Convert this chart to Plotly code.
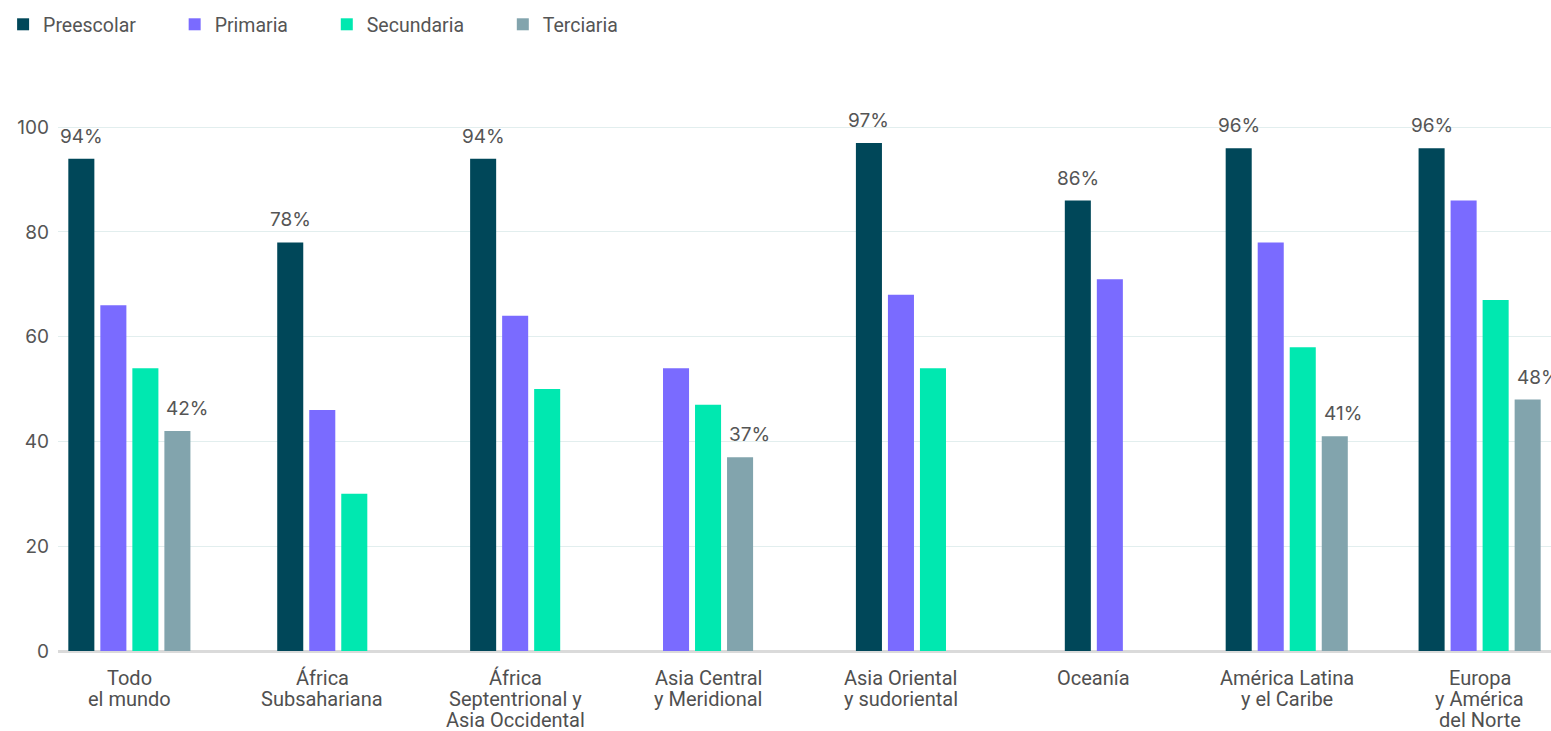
import plotly.graph_objects as go

categories = [
    "Todo<br>el mundo",
    "África<br>Subsahariana",
    "África<br>Septentrional y<br>Asia Occidental",
    "Asia Central<br>y Meridional",
    "Asia Oriental<br>y sudoriental",
    "Oceanía",
    "América Latina<br>y el Caribe",
    "Europa<br>y América<br>del Norte",
]
preescolar = [94, 78, 94, None, 97, 86, 96, 96]
primaria = [66, 46, 64, 54, 68, 71, 78, 86]
secundaria = [54, 30, 50, 47, 54, None, 58, 67]
terciaria = [42, None, None, 37, None, None, 41, 48]

series_names = ["Preescolar", "Primaria", "Secundaria", "Terciaria"]
series_values = [preescolar, primaria, secundaria, terciaria]
series_colors = ["#004759", "#7a6bff", "#00e8b0", "#82a4ad"]
labelled = {"Preescolar": "center", "Terciaria": "left"}
y_ticks = [0, 20, 40, 60, 80, 100]

BAR_W = 0.135
PITCH = 0.166
LEGEND_PAD = "\u2002\u2002\u2002\u2009"

# x positions: bars that exist are centred within their category
positions = [[None] * len(categories) for _ in series_values]
for i in range(len(categories)):
    present = [s for s, vals in enumerate(series_values) if vals[i] is not None]
    n = len(present)
    for k, s in enumerate(present):
        positions[s][i] = i + (k - (n - 1) / 2) * PITCH

fig = go.Figure()
annotations = []
for s, (name, vals, color) in enumerate(zip(series_names, series_values, series_colors)):
    xs = [x for x, v in zip(positions[s], vals) if v is not None]
    ys = [v for v in vals if v is not None]
    fig.add_trace(go.Bar(
        name=name + LEGEND_PAD, x=xs, y=ys, width=BAR_W,
        marker=dict(color=color, line=dict(width=0)),
        hovertemplate=name + ": %{y}%<extra></extra>",
    ))
    if name in labelled:
        anchor = labelled[name]
        for x, v in zip(xs, ys):
            annotations.append(dict(
                x=x - BAR_W / 2 if anchor == "left" else x, y=v,
                xref="x", yref="y", text=f"{v}%", showarrow=False,
                xanchor=anchor, yanchor="bottom", yshift=9,
                font=dict(family="Inter, Roboto, sans-serif", size=19, color="#555555"),
            ))

# category labels, one text per line so the line spacing stays tight
for i, label in enumerate(categories):
    for k, line in enumerate(label.split("<br>")):
        annotations.append(dict(
            x=i, y=0, xref="x", yref="paper", text=line, showarrow=False,
            xanchor="center", yanchor="middle", yshift=-27 - 21 * k,
            font=dict(family="Roboto, sans-serif", size=20, color="#505050"),
        ))

fig.update_layout(
    width=1551, height=731,
    margin=dict(l=58, r=0, t=122, b=80),
    paper_bgcolor="white", plot_bgcolor="white",
    barmode="overlay",
    font=dict(family="Roboto, sans-serif", size=19, color="#555555"),
    legend=dict(
        orientation="h", x=0.002, xref="container", xanchor="left",
        y=0.993, yref="container", yanchor="top",
        font=dict(family="Roboto, sans-serif", size=19.5, color="#555555"),
        itemwidth=30, traceorder="normal",
    ),
    annotations=annotations,
    showlegend=True,
)
fig.update_xaxes(
    range=[-0.37, 7.37],
    tickmode="array", tickvals=list(range(len(categories))),
    showticklabels=False,
    showgrid=False, zeroline=False, showline=False, ticks="",
    fixedrange=True,
)
fig.update_yaxes(
    range=[0, 101], tickvals=y_ticks,
    showgrid=True, gridcolor="#e2eeee", gridwidth=1,
    zeroline=True, zerolinecolor="#dadada", zerolinewidth=3,
    showline=False, ticks="", ticklabelstandoff=8,
    tickfont=dict(family="Inter, Roboto, sans-serif", size=19, color="#555555"),
    fixedrange=True,
)
fig.write_html("out.html")
